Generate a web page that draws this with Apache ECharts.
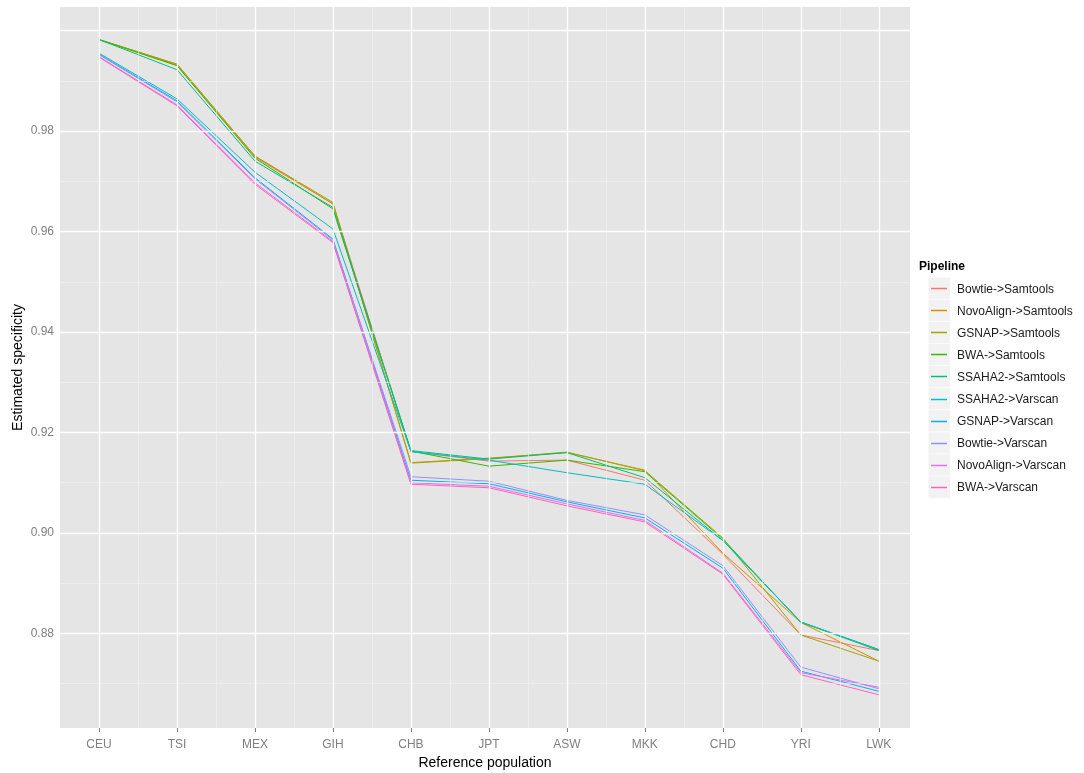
<!DOCTYPE html>
<html>
<head>
<meta charset="utf-8">
<script src="https://cdn.jsdelivr.net/npm/echarts@6/dist/echarts.min.js"></script>
<style>
html,body{margin:0;padding:0;background:#fff;}
#chart{width:1084px;height:773px;}
</style>
</head>
<body>
<div id="chart"></div>
<script>
const categories = ['CEU','TSI','MEX','GIH','CHB','JPT','ASW','MKK','CHD','YRI','LWK'];
const pipelines = ['Bowtie->Samtools','NovoAlign->Samtools','GSNAP->Samtools','BWA->Samtools','SSAHA2->Samtools','SSAHA2->Varscan','GSNAP->Varscan','Bowtie->Varscan','NovoAlign->Varscan','BWA->Varscan'];
const colors = ['#F8766D','#D89000','#A3A500','#39B600','#00BF7D','#00BFC4','#00B0F6','#9590FF','#E76BF3','#FF62BC'];

const bowtieSamtools    = [0.9982,0.9931,0.9748,0.9655,0.9162,0.9143,0.9145,0.9105,0.8958,0.8797,0.8766];
const novoalignSamtools = [0.9982,0.9933,0.9750,0.9655,0.9140,0.9149,0.9160,0.9125,0.8960,0.8822,0.8745];
const gsnapSamtools     = [0.9982,0.9933,0.9750,0.9658,0.9139,0.9148,0.9161,0.9124,0.8990,0.8797,0.8745];
const bwaSamtools       = [0.9982,0.9930,0.9746,0.9645,0.9163,0.9133,0.9145,0.9122,0.8988,0.8822,0.8768];
const ssaha2Samtools    = [0.9982,0.9922,0.9740,0.9648,0.9164,0.9147,0.9160,0.9110,0.8985,0.8823,0.8766];
const ssaha2Varscan     = [0.9955,0.9864,0.9718,0.9605,0.9162,0.9145,0.9120,0.9097,0.8985,0.8823,0.8768];
const gsnapVarscan      = [0.9953,0.9860,0.9707,0.9585,0.9105,0.9098,0.9062,0.9030,0.8930,0.8725,0.8685];
const bowtieVarscan     = [0.9952,0.9858,0.9705,0.9583,0.9112,0.9103,0.9065,0.9036,0.8935,0.8733,0.8690];
const novoalignVarscan  = [0.9948,0.9852,0.9697,0.9580,0.9100,0.9093,0.9058,0.9025,0.8920,0.8722,0.8693];
const bwaVarscan        = [0.9947,0.9850,0.9694,0.9578,0.9097,0.9090,0.9054,0.9022,0.8918,0.8718,0.8678];

const seriesValues = [bowtieSamtools,novoalignSamtools,gsnapSamtools,bwaSamtools,ssaha2Samtools,ssaha2Varscan,gsnapVarscan,bowtieVarscan,novoalignVarscan,bwaVarscan];

const yTicks = [0.88,0.90,0.92,0.94,0.96,0.98];
const yMajorGrid = [0.88,0.90,0.92,0.94,0.96,0.98,1.00];
const yMinorGrid = [0.87,0.89,0.91,0.93,0.95,0.97,0.99];

const FONT = 'Liberation Sans, Arial, sans-serif';

const xIdx = categories.map((c,i)=>i);
const xMinor = categories.slice(1).map((c,i)=>i+0.5);

const gridLines = [];
yMinorGrid.forEach(v=>gridLines.push({yAxis:v, lineStyle:{color:'#F2F2F2', width:0.6, type:'solid'}}));
xMinor.forEach(v=>gridLines.push({xAxis:v, lineStyle:{color:'#F2F2F2', width:0.6, type:'solid'}}));
yMajorGrid.forEach(v=>gridLines.push({yAxis:v, lineStyle:{color:'#FFFFFF', width:1.3, type:'solid'}}));
xIdx.forEach(v=>gridLines.push({xAxis:v, lineStyle:{color:'#FFFFFF', width:1.3, type:'solid'}}));

const series = [{
  type:'line', name:'__grid', data:[], silent:true, z:1,
  markLine:{silent:true, symbol:['none','none'], label:{show:false}, animation:false, data:gridLines}
}];
pipelines.forEach((p,k)=>{
  series.push({
    type:'line', name:p, z:3,
    data: categories.map((c,i)=>[i, seriesValues[k][i]]),
    symbol:'none', showSymbol:false,
    lineStyle:{color:colors[k], width:1},
    itemStyle:{color:colors[k]}
  });
});

const legendDeco = [];
pipelines.forEach((p,i)=>{
  const top = 277 + 22.1*i;
  legendDeco.push({
    type:'rect', left:928, top:top, z:-1,
    shape:{width:22, height:22},
    style:{fill:'#F2F2F2', stroke:'#FFFFFF', lineWidth:0.5}
  });
  const yy = Math.round(top + 11) + 0.5;
  legendDeco.push({
    type:'line', z:10, silent:true,
    shape:{x1:931, y1:yy, x2:947, y2:yy},
    style:{stroke:colors[i], lineWidth:1.5}
  });
});

const chart = echarts.init(document.getElementById('chart'), null, {renderer:'canvas'});
chart.setOption({
  animation:false,
  backgroundColor:'#FFFFFF',
  color: colors,
  title:{text:'Pipeline', left:914, top:256, textStyle:{fontFamily:FONT, fontSize:12, fontWeight:'bold', color:'#000'}},
  grid:{left:60, top:7, width:850, height:721, show:true, backgroundColor:'#E5E5E5', borderWidth:0, containLabel:false, outerBoundsMode:'none'},
  graphic: legendDeco,
  legend:{
    data: pipelines,
    orient:'vertical', left:931, top:278.5,
    itemWidth:15, itemHeight:12, itemGap:10,
    itemStyle:{opacity:0},
    lineStyle:{opacity:0},
    textStyle:{fontFamily:FONT, fontSize:12, lineHeight:12, color:'#1A1A1A', padding:[0,0,0,0]},
    selectedMode:false
  },
  xAxis:{
    type:'value', min:-0.5, max:10.4,
    name:'Reference population', nameLocation:'middle', nameGap:28,
    nameTextStyle:{fontFamily:FONT, fontSize:14, color:'#000'},
    axisLine:{show:false},
    axisTick:{show:true, length:4, customValues:xIdx, lineStyle:{color:'#7F7F7F'}},
    axisLabel:{customValues:xIdx, formatter:v=>categories[Math.round(v)], fontFamily:FONT, fontSize:12, color:'#7F7F7F', margin:11},
    splitLine:{show:false}
  },
  yAxis:{
    type:'value', min:0.86119, max:1.00468,
    name:'Estimated specificity', nameLocation:'middle', nameGap:35, nameRotate:90, nameMoveOverlap:false,
    nameTextStyle:{fontFamily:FONT, fontSize:14, color:'#000'},
    axisLine:{show:false},
    axisTick:{show:true, length:4, customValues:yTicks, lineStyle:{color:'#7F7F7F'}},
    axisLabel:{customValues:yTicks, formatter:v=>v.toFixed(2), fontFamily:FONT, fontSize:12, color:'#7F7F7F', margin:6},
    splitLine:{show:false}
  },
  series: series
});
</script>
</body>
</html>
